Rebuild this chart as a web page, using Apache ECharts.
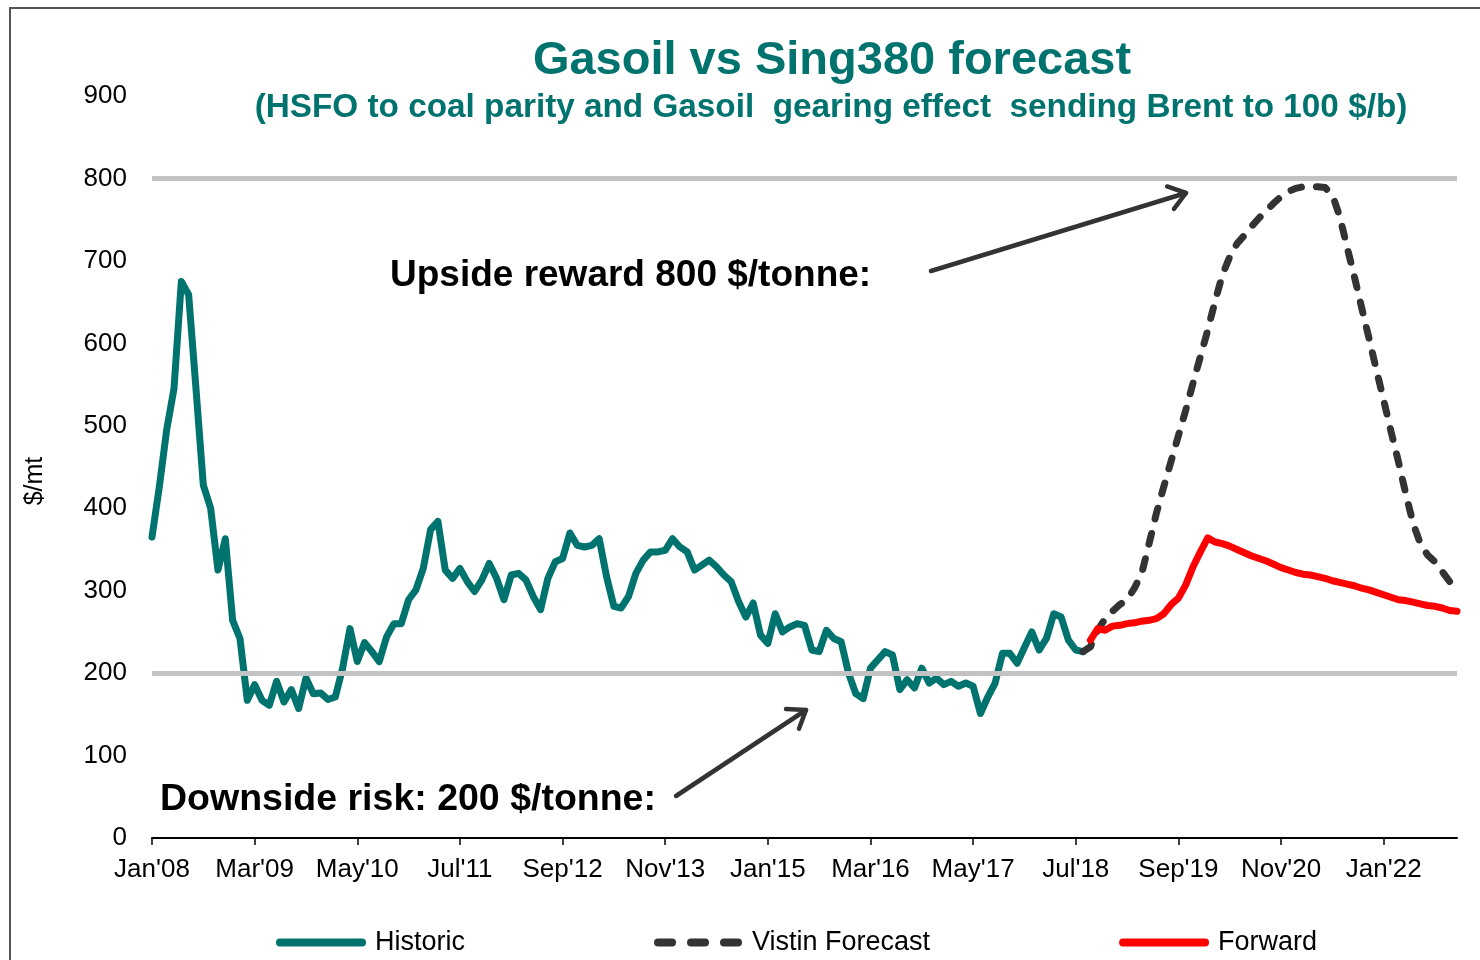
<!DOCTYPE html>
<html>
<head>
<meta charset="utf-8">
<script src="https://cdn.jsdelivr.net/npm/echarts@6/dist/echarts.min.js"></script>
<style>
html,body{margin:0;padding:0;background:#fff;}
#c{width:1480px;height:960px;}
</style>
</head>
<body>
<div id="c"></div>
<script>
// ---- Data ----
const monthNames = ['Jan','Feb','Mar','Apr','May','Jun','Jul','Aug','Sep','Oct','Nov','Dec'];
const startYear = 2008;
const monthCount = 179; // Jan'08 .. Nov'22
const categories = [];
for (let i = 0; i < monthCount; i++) {
  const y = startYear + Math.floor(i / 12);
  categories.push(monthNames[i % 12] + "'" + String(y).slice(2));
}

// Historic Gasoil vs Sing380 spread, Jan'08 .. Aug'18
const historic = [
  365,426,495,545,675,659,545,428,400,325,363,264,
  242,167,186,167,161,190,165,180,157,194,175,176,
  168,171,206,254,214,237,226,214,244,260,260,289,
  301,327,374,384,325,315,327,311,299,313,333,315,
  289,319,321,313,293,277,315,335,339,370,355,353,
  355,363,317,281,279,293,321,337,347,347,349,363,
  353,347,325,331,337,329,319,311,287,268,285,246,
  236,272,250,256,260,258,228,226,252,242,238,200,
  175,169,206,216,226,222,180,192,182,206,188,194,
  186,190,184,188,184,151,171,188,224,224,212,231,
  250,228,242,272,268,240,228,226
];
// Vistin Forecast, Aug'18 .. Nov'22
const forecastStart = 127;
const forecast = [
  226,232,252,266,275,283,289,303,321,357,394,426,
  457,488,519,552,584,616,651,683,705,721,731,742,
  752,761,770,778,784,788,790,790,790,789,780,754,
  717,681,643,606,568,531,493,457,418,382,357,343,
  335,323,311,299
];
// Forward curve, Sep'18 .. Nov'22
const forwardStart = 128;
const forward = [
  240,254,252,257,258,260,261,263,264,266,272,283,
  291,307,329,347,364,359,357,354,350,346,342,339,
  336,332,328,325,322,320,319,317,315,312,310,308,
  306,303,301,298,295,292,289,288,286,284,282,281,
  279,276,275
];
const referenceLevels = [200, 800];
const yTicks = {min: 0, max: 900, interval: 100};

function pad(startIdx, arr) {
  const out = new Array(monthCount).fill(null);
  arr.forEach((v, i) => { out[startIdx + i] = v; });
  return out;
}

const TEAL = '#00736F';
const FONT = '"Liberation Sans", Arial, sans-serif';

const ICON_SOLID = 'path://M4,0 H86 A4,4 0 0 1 86,8 H4 A4,4 0 0 1 4,0 Z';
const ICON_DASH = 'path://M4,0 H18 A4,4 0 0 1 18,8 H4 A4,4 0 0 1 4,0 Z ' +
                  'M37,0 H51 A4,4 0 0 1 51,8 H37 A4,4 0 0 1 37,0 Z ' +
                  'M70,0 H84 A4,4 0 0 1 84,8 H70 A4,4 0 0 1 70,0 Z';

const chart = echarts.init(document.getElementById('c'), null, {renderer: 'canvas'});

const option = {
  animation: false,
  backgroundColor: '#fff',
  title: [
    {
      text: 'Gasoil vs Sing380 forecast',
      left: 827, top: 33, textAlign: 'center',
      textStyle: {fontFamily: FONT, fontSize: 47, fontWeight: 'bold', color: TEAL}
    },
    {
      text: '(HSFO to coal parity and Gasoil  gearing effect  sending Brent to 100 $/b)',
      left: 826, top: 86, textAlign: 'center',
      textStyle: {fontFamily: FONT, fontSize: 33.3, fontWeight: 'bold', color: TEAL}
    }
  ],
  grid: {left: 152, right: 23, top: 96, bottom: 122, containLabel: false},
  legend: {
    left: 271, top: 924,
    itemWidth: 90, itemHeight: 8, itemGap: 189,
    itemStyle: {borderWidth: 0},
    lineStyle: {width: 0},
    textStyle: {fontFamily: FONT, fontSize: 27, color: '#000', padding: [0, 0, 0, 4]},
    data: [
      {name: 'Historic', icon: ICON_SOLID},
      {name: 'Vistin Forecast', icon: ICON_DASH},
      {name: 'Forward', icon: ICON_SOLID}
    ]
  },
  xAxis: {
    type: 'category',
    data: categories,
    boundaryGap: false,
    axisLine: {lineStyle: {color: '#000', width: 2}},
    axisTick: {show: true, interval: 13, length: 7, lineStyle: {color: '#000', width: 1.5}},
    axisLabel: {interval: 13, margin: 19, fontFamily: FONT, fontSize: 26, color: '#000'},
    splitLine: {show: false}
  },
  yAxis: {
    type: 'value',
    min: yTicks.min, max: yTicks.max, interval: yTicks.interval,
    name: '$/mt', nameLocation: 'middle', nameRotate: 90, nameGap: 104,
    nameTextStyle: {fontFamily: FONT, fontSize: 25, color: '#000', padding: [0, 28, 0, 0]},
    axisLine: {show: false},
    axisTick: {show: false},
    axisLabel: {margin: 25, fontFamily: FONT, fontSize: 26, color: '#000'},
    splitLine: {show: false}
  },
  series: [
    {
      name: 'Historic', type: 'line', data: pad(0, historic),
      symbol: 'none', connectNulls: false,
      lineStyle: {color: TEAL, width: 7, join: 'round', cap: 'round'},
      itemStyle: {color: TEAL},
      markLine: {
        silent: true, symbol: 'none', animation: false,
        label: {show: false},
        lineStyle: {color: '#C3C3C3', width: 5, type: 'solid'},
        data: referenceLevels.map(v => ({yAxis: v}))
      },
      z: 3
    },
    {
      name: 'Vistin Forecast', type: 'line', data: pad(forecastStart, forecast),
      symbol: 'none',
      lineStyle: {color: '#333333', width: 7, type: [11, 15], cap: 'round', join: 'round'},
      itemStyle: {color: '#333333'},
      z: 4
    },
    {
      name: 'Forward', type: 'line', data: pad(forwardStart, forward),
      symbol: 'none',
      lineStyle: {color: '#FF0000', width: 7, join: 'round', cap: 'round'},
      itemStyle: {color: '#FF0000'},
      z: 5
    }
  ]
};
chart.setOption(option);

// ---- Annotations (text + arrows) ----
function arrow(x1, y1, x2, y2) {
  const ang = Math.atan2(y2 - y1, x2 - x1);
  const L = 20, a = Math.PI / 5;
  const p1 = [x2 - L * Math.cos(ang - a), y2 - L * Math.sin(ang - a)];
  const p2 = [x2 - L * Math.cos(ang + a), y2 - L * Math.sin(ang + a)];
  const st = {stroke: '#333', lineWidth: 4.5, lineCap: 'round', lineJoin: 'round', fill: null};
  return [
    {type: 'line', shape: {x1: x1, y1: y1, x2: x2, y2: y2}, style: st, z: 10},
    {type: 'polyline', shape: {points: [p1, [x2, y2], p2]}, style: st, z: 10}
  ];
}
const graphics = [
  {type: 'rect', shape: {x: 10, y: 8, width: 1500, height: 1000},
   style: {fill: null, stroke: '#555', lineWidth: 2}, silent: true, z: 0},
  {type: 'text', left: 390, top: 257,
   style: {text: 'Upside reward 800 $/tonne:', font: 'bold 37px ' + FONT, fill: '#000'}, z: 10},
  {type: 'text', left: 160, top: 781,
   style: {text: 'Downside risk: 200 $/tonne:', font: 'bold 37.5px ' + FONT, fill: '#000'}, z: 10}
].concat(arrow(931, 271, 1186, 193), arrow(676, 796, 806, 710));
chart.setOption({graphic: graphics});
</script>
</body>
</html>
